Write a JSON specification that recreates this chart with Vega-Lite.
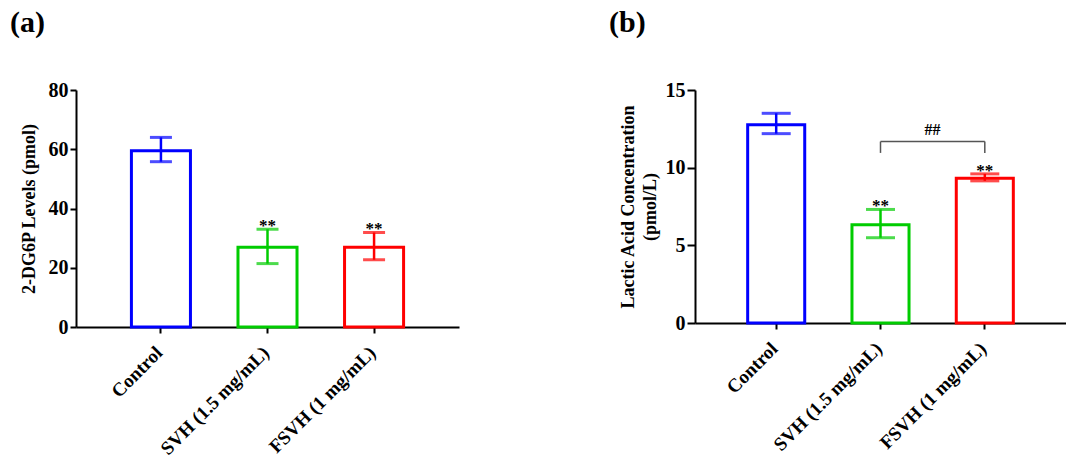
{
  "$schema": "https://vega.github.io/schema/vega-lite/v6.json",
  "background": "white",
  "padding": {"left": 10, "top": 8, "right": 0, "bottom": 0},
  "spacing": 150,
  "datasets": {
    "dg6p": [
      {"group": "Control", "mean": 59.5, "lo": 55.8, "hi": 64.0, "sig": ""},
      {"group": "SVH (1.5 mg/mL)", "mean": 26.9, "lo": 21.4, "hi": 33.0, "sig": "**"},
      {"group": "FSVH (1 mg/mL)", "mean": 26.9, "lo": 22.7, "hi": 31.9, "sig": "**"}
    ],
    "lactic": [
      {"group": "Control", "mean": 12.77, "lo": 12.19, "hi": 13.5, "sig": ""},
      {"group": "SVH (1.5 mg/mL)", "mean": 6.32, "lo": 5.49, "hi": 7.31, "sig": "**"},
      {"group": "FSVH (1 mg/mL)", "mean": 9.32, "lo": 9.15, "hi": 9.6, "sig": "**"}
    ],
    "bracket": [
      {"from": "SVH (1.5 mg/mL)", "to": "FSVH (1 mg/mL)", "y": 11.68, "y2": 11.68},
      {"from": "SVH (1.5 mg/mL)", "to": "SVH (1.5 mg/mL)", "y": 10.95, "y2": 11.68},
      {"from": "FSVH (1 mg/mL)", "to": "FSVH (1 mg/mL)", "y": 10.95, "y2": 11.68}
    ],
    "hash": [
      {"group": "SVH (1.5 mg/mL)", "y": 11.68, "label": "##"}
    ]
  },
  "hconcat": [
    {
      "title": {"text": "(a)", "anchor": "start", "frame": "bounds", "offset": 42, "dx": -10},
      "width": 383,
      "height": 237,
      "data": {"name": "dg6p"},
      "encoding": {
        "x": {
          "field": "group", "type": "nominal", "sort": null,
          "scale": {"domain": ["Control", "SVH (1.5 mg/mL)", "FSVH (1 mg/mL)"], "paddingInner": 0.446, "paddingOuter": 0.52},
          "axis": {"title": null, "labelAngle": -45, "labelAlign": "right", "labelBaseline": "top"}
        },
        "color": {
          "field": "group", "type": "nominal", "legend": null,
          "scale": {"domain": ["Control", "SVH (1.5 mg/mL)", "FSVH (1 mg/mL)"], "range": ["#0000FF", "#00CC00", "#FF0000"]}
        }
      },
      "layer": [
        {
          "mark": {"type": "bar", "fill": "white", "strokeWidth": 3},
          "encoding": {
            "y": {"field": "mean", "type": "quantitative", "scale": {"domain": [0, 80], "nice": false},
                  "axis": {"title": "2-DG6P Levels (pmol)", "values": [0, 20, 40, 60, 80], "tickSize": 6, "titlePadding": 10}},
            "stroke": {"field": "group", "type": "nominal", "legend": null,
              "scale": {"domain": ["Control", "SVH (1.5 mg/mL)", "FSVH (1 mg/mL)"], "range": ["#0000FF", "#00CC00", "#FF0000"]}}
          }
        },
        {
          "mark": {"type": "rule", "strokeWidth": 2.5},
          "encoding": {"y": {"field": "lo", "type": "quantitative"}, "y2": {"field": "hi"}}
        },
        {
          "mark": {"type": "tick", "thickness": 3, "size": 22},
          "encoding": {"y": {"field": "lo", "type": "quantitative"}}
        },
        {
          "mark": {"type": "tick", "thickness": 3, "size": 22},
          "encoding": {"y": {"field": "hi", "type": "quantitative"}}
        },
        {
          "mark": {"type": "text", "fontSize": 17, "fontWeight": "bold", "baseline": "alphabetic", "dy": 2},
          "encoding": {"y": {"field": "hi", "type": "quantitative"}, "text": {"field": "sig"}, "color": {"value": "black"}}
        }
      ]
    },
    {
      "title": {"text": "(b)", "anchor": "start", "frame": "bounds", "offset": 42, "dx": -10},
      "width": 371,
      "height": 233,
      "layer": [
        {
          "data": {"name": "lactic"},
          "encoding": {
            "x": {
              "field": "group", "type": "nominal", "sort": null,
              "scale": {"domain": ["Control", "SVH (1.5 mg/mL)", "FSVH (1 mg/mL)"], "paddingInner": 0.453, "paddingOuter": 0.505},
              "axis": {"title": null, "labelAngle": -45, "labelAlign": "right", "labelBaseline": "top"}
            },
            "color": {
              "field": "group", "type": "nominal", "legend": null,
              "scale": {"domain": ["Control", "SVH (1.5 mg/mL)", "FSVH (1 mg/mL)"], "range": ["#0000FF", "#00CC00", "#FF0000"]}
            }
          },
          "layer": [
            {
              "mark": {"type": "bar", "fill": "white", "strokeWidth": 3},
              "encoding": {
                "y": {"field": "mean", "type": "quantitative", "scale": {"domain": [0, 15], "nice": false},
                      "axis": {"title": ["Lactic Acid Concentration", "(pmol/L)"], "values": [0, 5, 10, 15], "tickSize": 8, "titlePadding": 6}},
                "stroke": {"field": "group", "type": "nominal", "legend": null,
                  "scale": {"domain": ["Control", "SVH (1.5 mg/mL)", "FSVH (1 mg/mL)"], "range": ["#0000FF", "#00CC00", "#FF0000"]}}
              }
            },
            {
              "mark": {"type": "rule", "strokeWidth": 2.5},
              "encoding": {"y": {"field": "lo", "type": "quantitative"}, "y2": {"field": "hi"}}
            },
            {
              "mark": {"type": "tick", "thickness": 3, "size": 29},
              "encoding": {"y": {"field": "lo", "type": "quantitative"}}
            },
            {
              "mark": {"type": "tick", "thickness": 3, "size": 29},
              "encoding": {"y": {"field": "hi", "type": "quantitative"}}
            },
            {
              "mark": {"type": "text", "fontSize": 17, "fontWeight": "bold", "baseline": "alphabetic", "dy": 2},
              "encoding": {"y": {"field": "hi", "type": "quantitative"}, "text": {"field": "sig"}, "color": {"value": "black"}}
            }
          ]
        },
        {
          "data": {"name": "bracket"},
          "mark": {"type": "rule", "color": "#555555", "strokeWidth": 1.5},
          "encoding": {
            "x": {"field": "from", "type": "nominal"},
            "x2": {"field": "to"},
            "y": {"field": "y", "type": "quantitative", "scale": {"domain": [0, 15], "nice": false}},
            "y2": {"field": "y2"}
          }
        },
        {
          "data": {"name": "hash"},
          "mark": {"type": "text", "fontSize": 16, "fontWeight": "bold", "baseline": "alphabetic", "dx": 52, "dy": -7, "color": "black"},
          "encoding": {
            "x": {"field": "group", "type": "nominal"},
            "y": {"field": "y", "type": "quantitative", "scale": {"domain": [0, 15], "nice": false}},
            "text": {"field": "label"}
          }
        }
      ]
    }
  ],
  "config": {
    "font": "Liberation Serif",
    "view": {"stroke": null},
    "title": {"font": "Liberation Serif", "fontSize": 30, "fontWeight": "bold", "color": "black"},
    "axis": {
      "grid": false,
      "domainColor": "black",
      "domainWidth": 2,
      "tickColor": "black",
      "tickWidth": 2,
      "labelFont": "Liberation Serif",
      "labelFontSize": 20,
      "labelFontWeight": "bold",
      "labelColor": "black",
      "labelPadding": 2,
      "titleFont": "Liberation Serif",
      "titleFontSize": 18,
      "titleFontWeight": "bold",
      "titleColor": "black",
      "titlePadding": 8,
      "titleLineHeight": 22
    },
    "axisX": {"tickSize": 6, "labelPadding": 10, "labelOffset": -8, "labelFontSize": 19},
    "tick": {"bandSize": 20}
  }
}
